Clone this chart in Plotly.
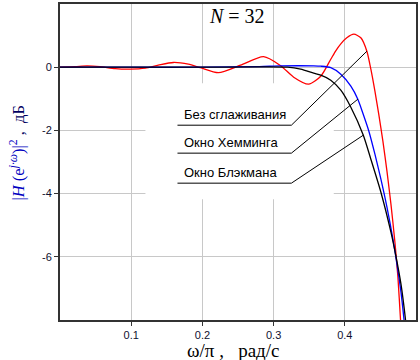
import plotly.graph_objects as go

# Frequency axis values (omega/pi) and gains (dB)
red_x = [0.0, 0.0211, 0.038, 0.0563, 0.0775, 0.0986, 0.1197, 0.138, 0.1592, 0.1803, 0.1972,
         0.2225, 0.2535, 0.2859, 0.3099, 0.3282, 0.3493, 0.3662, 0.3803, 0.3873, 0.3944,
         0.4028, 0.4127, 0.4225, 0.431, 0.4366, 0.4423, 0.4479, 0.4535, 0.4592, 0.4648,
         0.4704, 0.4746, 0.4782, 0.4803]
red_y = [0.0, 0.016, 0.041, 0.016, -0.047, -0.063, -0.032, 0.063, 0.149, 0.095, -0.016,
         -0.174, 0.063, 0.332, 0.047, -0.316, -0.538, -0.285, 0.253, 0.52, 0.74,
         0.93, 1.044, 0.93, 0.506, -0.063, -0.759, -1.519, -2.342, -3.291, -4.335,
         -5.538, -6.646, -7.975, -8.766]

blue_x = [0.0, 0.1, 0.2, 0.28, 0.3099, 0.3563, 0.3662, 0.3803, 0.3944, 0.4085, 0.4183,
          0.4254, 0.4338, 0.4423, 0.4507, 0.4592, 0.4676, 0.4732, 0.4789, 0.4831, 0.4852]
blue_y = [0.0, 0.0, 0.0, 0.02, 0.041, 0.041, 0.032, -0.016, -0.222, -0.601, -1.013,
          -1.456, -2.025, -2.753, -3.544, -4.43, -5.443, -6.234, -7.12, -7.975, -8.45]

black_x = [0.0, 0.1, 0.2, 0.3197, 0.338, 0.3563, 0.3662, 0.3803, 0.3944, 0.4085, 0.426,
           0.4366, 0.4507, 0.4648, 0.4718, 0.4789, 0.4852, 0.4873]
black_y = [0.0, 0.0, 0.0, 0.0, -0.063, -0.19, -0.253, -0.411, -0.728, -1.266, -2.152,
           -2.911, -3.956, -5.222, -5.981, -6.867, -7.975, -8.45]

x_ticks = [0.1, 0.2, 0.3, 0.4]
x_tick_labels = ["0.1", "0.2", "0.3", "0.4"]
y_ticks = [0, -2, -4, -6]
y_tick_labels = ["0", "-2", "-4", "-6"]

legend_labels = ["Без сглаживания", "Окно Хемминга", "Окно Блэкмана"]

fig = go.Figure()
fig.add_trace(go.Scatter(x=red_x, y=red_y, mode="lines", hoverinfo="skip",
                         line=dict(color="#ff0000", width=1.3, shape="spline", smoothing=0.7)))
fig.add_trace(go.Scatter(x=blue_x, y=blue_y, mode="lines", hoverinfo="skip",
                         line=dict(color="#0000ff", width=1.3, shape="spline", smoothing=0.7)))
fig.add_trace(go.Scatter(x=black_x, y=black_y, mode="lines", hoverinfo="skip",
                         line=dict(color="#000000", width=1.3, shape="spline", smoothing=0.7)))

# white backing box behind the labels (hides the grid)
fig.add_shape(type="rect", xref="x", yref="y", x0=0.12, x1=0.3845, y0=-0.506, y1=-4.18,
              fillcolor="white", line=dict(width=0), layer="between")

# leader lines: underline y and tip point on curves
label_y = [-1.835, -2.72, -3.67]
tips = [(0.431, 0.506), (0.4183, -1.013), (0.426, -2.152)]
for lbl, ly, (tx, ty) in zip(legend_labels, label_y, tips):
    fig.add_shape(type="line", xref="x", yref="y", x0=0.165, x1=0.325, y0=ly, y1=ly,
                  line=dict(color="black", width=1))
    fig.add_shape(type="line", xref="x", yref="y", x0=0.325, x1=tx, y0=ly, y1=ty,
                  line=dict(color="black", width=1))
    fig.add_annotation(x=0.171, y=ly, xref="x", yref="y", text=lbl, showarrow=False,
                       xanchor="left", yanchor="bottom", yshift=1,
                       font=dict(family="Liberation Sans, Arial", size=13, color="black"))

fig.add_annotation(x=0.249, y=1.61, xref="x", yref="y", text="<i>N</i> = 32", showarrow=False,
                   xanchor="center", yanchor="middle",
                   font=dict(family="Liberation Serif, Times New Roman", size=20, color="black"))

fig.add_annotation(x=-0.118, y=0.53, xref="paper", yref="paper", textangle=-90,
                   text="<span style='color:#0000c0'>|<i>H</i> (e<sup><i>j·ω</i></sup>)|<sup>2</sup></span> ,  дБ",
                   showarrow=False, xanchor="center", yanchor="middle",
                   font=dict(family="Liberation Serif, Times New Roman", size=16.5, color="#000060"))

fig.add_annotation(x=0.486, y=-0.095, xref="paper", yref="paper",
                   text="ω/π ,   рад/с", showarrow=False, xanchor="center", yanchor="middle",
                   font=dict(family="Liberation Serif, Times New Roman", size=19, color="black"))

axis_common = dict(showline=True, mirror=True, linecolor="#333333", linewidth=2,
                   showgrid=True, gridcolor="#c8c8c8", gridwidth=1, zeroline=False,
                   ticks="outside", ticklen=4, tickcolor="#333333", automargin=False,
                   tickfont=dict(family="Liberation Sans, Arial", size=11, color="#101030"))

fig.update_xaxes(range=[0, 0.5], tickvals=x_ticks, ticktext=x_tick_labels, **axis_common)
fig.update_yaxes(range=[-8, 2], tickvals=y_ticks, ticktext=y_tick_labels, **axis_common)

fig.update_layout(width=420, height=360, margin=dict(l=60, r=4, t=4, b=40, autoexpand=False),
                  paper_bgcolor="white", plot_bgcolor="white", showlegend=False,
                  hovermode=False)

fig.write_html("out.html", config={"displayModeBar": False, "staticPlot": True},
               post_script="document.body.style.margin='0';document.body.style.overflow='hidden';")
